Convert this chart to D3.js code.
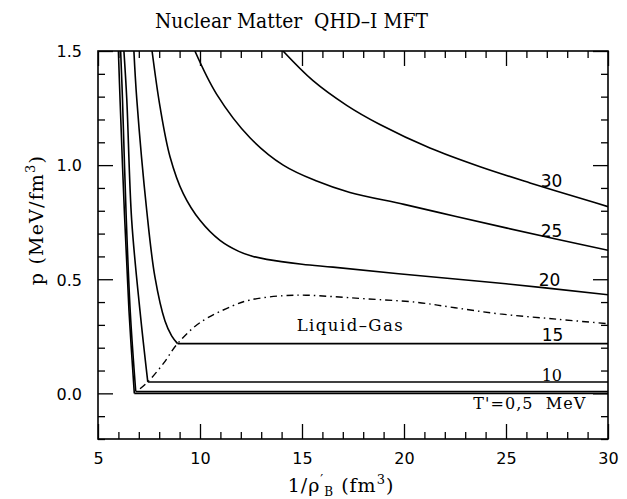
<!DOCTYPE html>
<html><head><meta charset="utf-8">
<script src="https://cdn.jsdelivr.net/npm/d3@7"></script>
<style>body{margin:0;background:#fff}text{white-space:pre}</style></head>
<body><svg id="c" width="627" height="499"></svg>
<script>
// ---- data ----
const xMajorTicks = [5, 10, 15, 20, 25, 30];
const xMinorTicks = [6,7,8,9,11,12,13,14,16,17,18,19,21,22,23,24,26,27,28,29];
const yMajorTicks = [0.0, 0.5, 1.0, 1.5];
const yMinorTicks = [-0.2,-0.1,0.1,0.2,0.3,0.4,0.6,0.7,0.8,0.9,1.1,1.2,1.3,1.4];

// isotherm branches (x = 1/rho_B in fm^3, p in MeV/fm^3)
const t0X  = [6.00, 6.08, 6.30, 6.52, 6.78];
const t0P  = [1.50, 1.29, 0.78, 0.36, 0.00];
const t5X  = [6.11, 6.20, 6.38, 6.58, 6.85];
const t5P  = [1.50, 1.29, 0.78, 0.36, 0.008];
const t10X = [6.27, 6.41, 6.65, 7.06, 7.44];
const t10P = [1.50, 1.29, 0.76, 0.36, 0.05];
const t15X = [6.76, 6.90, 7.39, 7.79, 8.28, 8.61, 8.90];
const t15P = [1.50, 1.29, 0.80, 0.51, 0.318, 0.252, 0.218];
const t20X = [7.65, 8.04, 8.53, 9.18, 10.0, 10.98, 11.9, 12.6, 13.27, 15.0, 16.52, 20.0, 25.0, 30.0];
const t20P = [1.50, 1.256, 1.037, 0.875, 0.758, 0.67, 0.622, 0.600, 0.587, 0.566, 0.553, 0.522, 0.48, 0.432];
const t25X = [9.75, 10.82, 12.45, 14.08, 15.72, 17.35, 20.0, 22.5, 25.0, 27.5, 30.0];
const t25P = [1.50, 1.31, 1.12, 1.00, 0.93, 0.88, 0.828, 0.776, 0.725, 0.675, 0.627];
const t30X = [14.07, 15.54, 17.19, 18.82, 21.27, 23.73, 26.18, 29.26, 30.0];
const t30P = [1.50, 1.37, 1.262, 1.178, 1.075, 0.993, 0.922, 0.838, 0.818];
// plateau (mixed phase) pressures, flat up to x = 30
const plateauP = [0.0, 0.008, 0.05, 0.218];
// liquid-gas coexistence boundary (dash-dot)
const coexX = [7.06, 7.44, 8.2, 8.9, 10.0, 11.62, 12.45, 14.07, 15.2, 16.5, 18.17, 20.62, 22.5, 24.7, 27.5, 30.0];
const coexP = [0.02, 0.05, 0.13, 0.218, 0.31, 0.384, 0.409, 0.428, 0.43, 0.424, 0.414, 0.399, 0.375, 0.348, 0.325, 0.305];

const curveLabels = ["30", "25", "20", "15", "10", "T'=0,5  MeV"];
const curveLabelX = [26.7, 26.7, 26.6, 26.75, 26.75, 23.4];
const curveLabelP = [0.903, 0.684, 0.472, 0.230, 0.054, -0.069];
const regionLabel = "Liquid\u2013Gas";
const regionLabelX = 14.74, regionLabelP = 0.274;
const titleText = "Nuclear Matter  QHD\u2013I MFT";

// ---- chart ----
const svg = d3.select("#c");
const L = 98, R = 608, T = 51, B = 439;
const x = d3.scaleLinear().domain([5, 30]).range([L, R]);
const y = d3.scaleLinear().domain([-0.2, 1.5]).range([B, T]);

svg.append("defs").append("clipPath").attr("id", "clip")
  .append("rect").attr("x", L).attr("y", T).attr("width", R - L).attr("height", B - T);

// axes with inward ticks
function ax(gen, scale, ticks, size, tr, labels) {
  const a = gen(scale).tickValues(ticks).tickSizeInner(-size).tickSizeOuter(0);
  if (labels) a.tickFormat(labels); else a.tickFormat("");
  const g = svg.append("g").attr("transform", tr).call(a);
  g.select(".domain").remove();
  g.selectAll("line").attr("stroke", "#000").attr("stroke-width", 1.3);
  return g;
}
const gxb = ax(d3.axisBottom, x, xMajorTicks, 15, `translate(0,${B})`, d3.format("d"));
gxb.selectAll("text").attr("y", 25).attr("dy", 0).attr("font-family", "DejaVu Sans").attr("font-size", 16).attr("fill", "#000");
ax(d3.axisBottom, x, xMinorTicks, 7, `translate(0,${B})`, null);
ax(d3.axisTop, x, xMajorTicks, 15, `translate(0,${T})`, null);
ax(d3.axisTop, x, xMinorTicks, 7, `translate(0,${T})`, null);
const gyl = ax(d3.axisLeft, y, yMajorTicks, 15, `translate(${L},0)`, d3.format(".1f"));
gyl.selectAll("text").attr("x", -16).attr("dy", "0.36em").attr("font-family", "DejaVu Sans").attr("font-size", 16).attr("fill", "#000");
ax(d3.axisLeft, y, yMinorTicks, 7, `translate(${L},0)`, null);
ax(d3.axisRight, y, yMajorTicks, 15, `translate(${R},0)`, null);
ax(d3.axisRight, y, yMinorTicks, 7, `translate(${R},0)`, null);

svg.append("rect").attr("x", L).attr("y", T).attr("width", R - L).attr("height", B - T)
  .attr("fill", "none").attr("stroke", "#000").attr("stroke-width", 1.6);

const plot = svg.append("g").attr("clip-path", "url(#clip)");
const line = d3.line().x(d => x(d[0])).y(d => y(d[1])).curve(d3.curveCatmullRom.alpha(0.5));
const straight = d3.line().x(d => x(d[0])).y(d => y(d[1]));

const branches = [[t0X, t0P], [t5X, t5P], [t10X, t10P], [t15X, t15P], [t20X, t20P], [t25X, t25P], [t30X, t30P]];
branches.forEach(([xs, ps], i) => {
  const pts = xs.map((v, j) => [v, ps[j]]);
  plot.append("path").attr("d", line(pts)).attr("fill", "none").attr("stroke", "#000").attr("stroke-width", 1.6);
  if (i < plateauP.length) {
    const last = pts[pts.length - 1];
    plot.append("path").attr("d", straight([[last[0], plateauP[i]], [30, plateauP[i]]]))
      .attr("fill", "none").attr("stroke", "#000").attr("stroke-width", 1.6);
  }
});

plot.append("path").attr("d", line(coexX.map((v, j) => [v, coexP[j]])))
  .attr("fill", "none").attr("stroke", "#000").attr("stroke-width", 1.4)
  .attr("stroke-dasharray", "7,4,1.5,4");

// curve labels
curveLabels.forEach((t, i) => {
  const serif = i >= 4;
  const el = svg.append("text").attr("x", x(curveLabelX[i])).attr("y", y(curveLabelP[i]))
    .attr("font-family", serif ? "DejaVu Serif" : "DejaVu Sans").attr("font-size", serif ? 16 : 17)
    .attr("fill", "#000").text(t);
  if (i === 5) el.attr("textLength", 112).attr("lengthAdjust", "spacing");
});
svg.append("text").attr("x", x(regionLabelX)).attr("y", y(regionLabelP))
  .attr("font-family", "DejaVu Serif").attr("font-size", 16.5).attr("fill", "#000")
  .attr("textLength", 106).attr("lengthAdjust", "spacing").text(regionLabel);

// title
svg.append("text").attr("x", 155).attr("y", 27.5)
  .attr("font-family", "DejaVu Serif").attr("font-size", 19.5).attr("fill", "#000")
  .attr("textLength", 273).attr("lengthAdjust", "spacingAndGlyphs").text(titleText);

// y axis label
const yl = svg.append("text").attr("transform", "translate(43,220) rotate(-90)")
  .attr("text-anchor", "middle").attr("font-family", "DejaVu Serif").attr("font-size", 19)
  .attr("letter-spacing", 1.2).attr("fill", "#000");
yl.append("tspan").text("p (MeV/fm");
yl.append("tspan").attr("dy", -8).attr("font-size", 13).text("3");
yl.append("tspan").attr("dy", 8).text(")");

// x axis label
const xl = svg.append("text").attr("x", 341).attr("y", 492)
  .attr("text-anchor", "middle").attr("font-family", "DejaVu Serif").attr("font-size", 19)
  .attr("letter-spacing", 1).attr("fill", "#000");
xl.append("tspan").text("1/\u03c1");
xl.append("tspan").attr("dy", -8).attr("font-size", 13).text("\u2032");
xl.append("tspan").attr("dy", 12).attr("font-size", 12).text("B");
xl.append("tspan").attr("dy", -4).text(" (fm");
xl.append("tspan").attr("dy", -8).attr("font-size", 13).text("3");
xl.append("tspan").attr("dy", 8).text(")");
</script></body></html>
